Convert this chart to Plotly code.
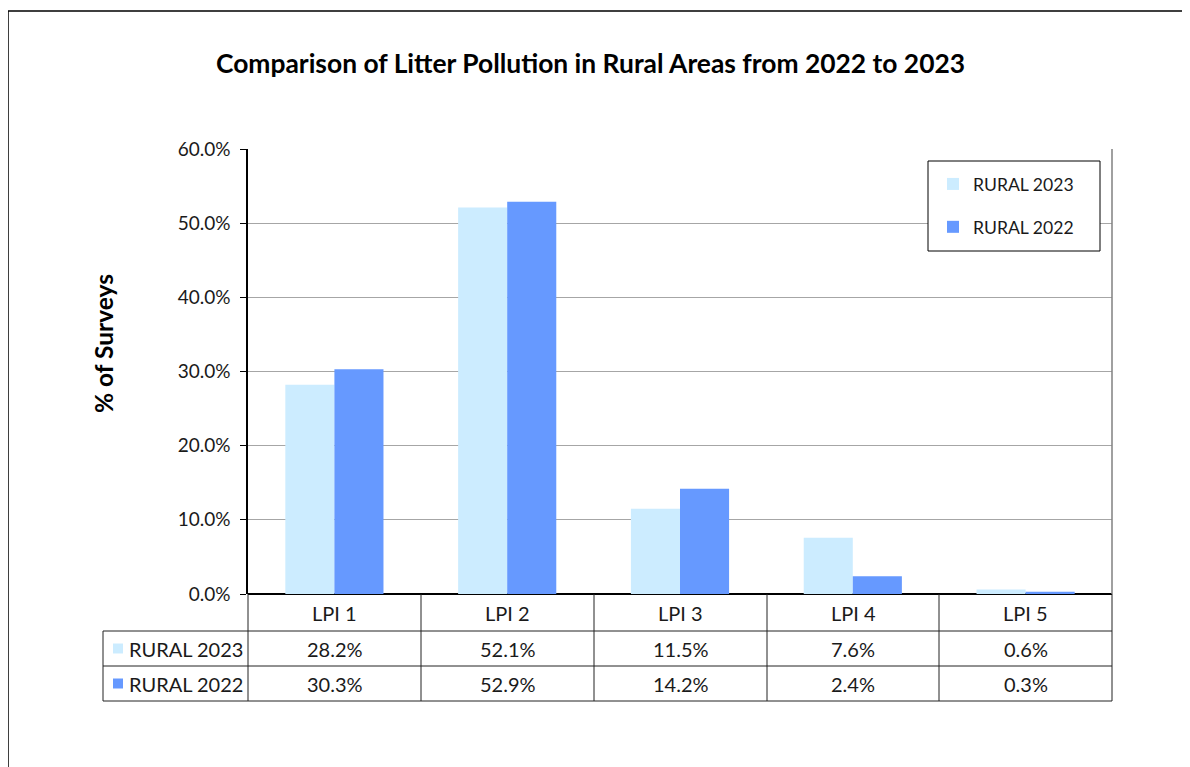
import plotly.graph_objects as go

categories = ["LPI 1", "LPI 2", "LPI 3", "LPI 4", "LPI 5"]
rural_2023 = [28.2, 52.1, 11.5, 7.6, 0.6]
rural_2022 = [30.3, 52.9, 14.2, 2.4, 0.3]
series_names = ["RURAL 2023", "RURAL 2022"]
y_ticks = [0, 10, 20, 30, 40, 50, 60]

C_LIGHT = "#CCECFF"
C_DARK = "#6699FF"
FONT = "Lato"
W, H = 1190, 767
OX, OY = 8, 8  # page body margin compensation


def px(x):
    return (x - OX) / W


def py(y):
    return 1 - (y - OY) / H


fig = go.Figure()
fig.add_trace(go.Bar(x=categories, y=rural_2023, name=series_names[0],
                     marker=dict(color=C_LIGHT, line=dict(width=0)), legendgroup="a"))
fig.add_trace(go.Bar(x=categories, y=rural_2022, name=series_names[1],
                     marker=dict(color=C_DARK, line=dict(width=0)), legendgroup="b"))

PL, PR, PT, PB = 248, 1112, 149, 594

shapes = []
# outer chart border
shapes.append(dict(type="rect", xref="paper", yref="paper", x0=px(8), x1=px(1215), y0=py(11), y1=py(795),
                   line=dict(color="#000000", width=1.5), layer="below"))
# right border of plot area
shapes.append(dict(type="line", xref="paper", yref="paper", x0=px(PR), x1=px(PR), y0=py(PT), y1=py(PB),
                   line=dict(color="#808080", width=1.5)))
# legend box
shapes.append(dict(type="rect", xref="paper", yref="paper", x0=px(928), x1=px(1100), y0=py(161), y1=py(251),
                   line=dict(color="#000000", width=1), fillcolor="#FFFFFF", layer="above"))

# data table
col_edges = [248, 421, 594, 767, 939, 1112]
row_edges = [594, 631, 666, 701]
TL = 103
LC = "#222222"
for xe in col_edges:
    shapes.append(dict(type="line", xref="paper", yref="paper", x0=px(xe), x1=px(xe),
                       y0=py(row_edges[0]), y1=py(row_edges[-1]), line=dict(color=LC, width=1)))
shapes.append(dict(type="line", xref="paper", yref="paper", x0=px(TL), x1=px(TL),
                   y0=py(row_edges[1]), y1=py(row_edges[-1]), line=dict(color=LC, width=1)))
for ye in row_edges[1:]:
    shapes.append(dict(type="line", xref="paper", yref="paper", x0=px(TL), x1=px(PR),
                       y0=py(ye), y1=py(ye), line=dict(color=LC, width=1)))

annotations = []
txt_font = dict(family=FONT, size=20, color="#1a1a1a")
for i, cat in enumerate(categories):
    cx = (col_edges[i] + col_edges[i + 1]) / 2
    annotations.append(dict(x=px(cx), y=py((row_edges[0] + row_edges[1]) / 2), xref="paper", yref="paper",
                            text=cat, showarrow=False, font=txt_font, xanchor="center", yanchor="middle"))
    for r, vals in enumerate([rural_2023, rural_2022]):
        annotations.append(dict(x=px(cx), y=py((row_edges[r + 1] + row_edges[r + 2]) / 2),
                                xref="paper", yref="paper", text=f"{vals[i]:.1f}%", showarrow=False,
                                font=txt_font, xanchor="center", yanchor="middle"))

for r, (name, col) in enumerate(zip(series_names, [C_LIGHT, C_DARK])):
    cy = (row_edges[r + 1] + row_edges[r + 2]) / 2
    shapes.append(dict(type="rect", xref="paper", yref="paper", x0=px(113), x1=px(123),
                       y0=py(cy - 5), y1=py(cy + 5), fillcolor=col, line=dict(width=0)))
    annotations.append(dict(x=px(127), y=py(cy), xref="paper", yref="paper", text=name, showarrow=False,
                            font=txt_font, xanchor="left", yanchor="middle"))

# title and axis title
annotations.append(dict(x=px(590), y=py(63), xref="paper", yref="paper",
                        text="<b>Comparison of Litter Pollution in Rural Areas from 2022 to 2023</b>",
                        showarrow=False, font=dict(family=FONT, size=26.4, color="#000000"),
                        xanchor="center", yanchor="middle"))
annotations.append(dict(x=px(103), y=py(343), xref="paper", yref="paper", text="<b>% of Surveys</b>",
                        textangle=-90, showarrow=False, font=dict(family=FONT, size=24.5, color="#000000"),
                        xanchor="center", yanchor="middle"))

fig.update_layout(
    template="none",
    width=W, height=H,
    margin=dict(l=0, r=0, t=0, b=0, pad=0, autoexpand=False),
    paper_bgcolor="#FFFFFF", plot_bgcolor="#FFFFFF",
    barmode="group", bargap=0.432, bargroupgap=0,
    showlegend=True,
    legend=dict(x=px(933), y=py(166), xanchor="left", yanchor="top", bgcolor="rgba(0,0,0,0)",
                borderwidth=0, font=dict(family=FONT, size=17.6, color="#1a1a1a"),
                tracegroupgap=17, traceorder="grouped"),
    xaxis=dict(domain=[px(PL), px(PR)], range=[-0.5, 4.5], showticklabels=False, ticks="",
               showgrid=False, showline=False, zeroline=False, fixedrange=True, automargin=False),
    yaxis=dict(domain=[py(PB), py(PT)], range=[0, 60], tickvals=y_ticks,
               ticktext=[f"{v:.1f}%" for v in y_ticks],
               showgrid=True, gridcolor="#A6A6A6", gridwidth=1,
               showline=True, linecolor="#000000", linewidth=1.5,
               ticks="outside", ticklen=6, tickcolor="#000000", ticklabelstandoff=6,
               zeroline=True, zerolinecolor="#000000", zerolinewidth=1.5, automargin=False,
               tickfont=dict(family=FONT, size=19, color="#1a1a1a"), fixedrange=True),
    shapes=shapes, annotations=annotations,
)

fig.write_html("out.html")
